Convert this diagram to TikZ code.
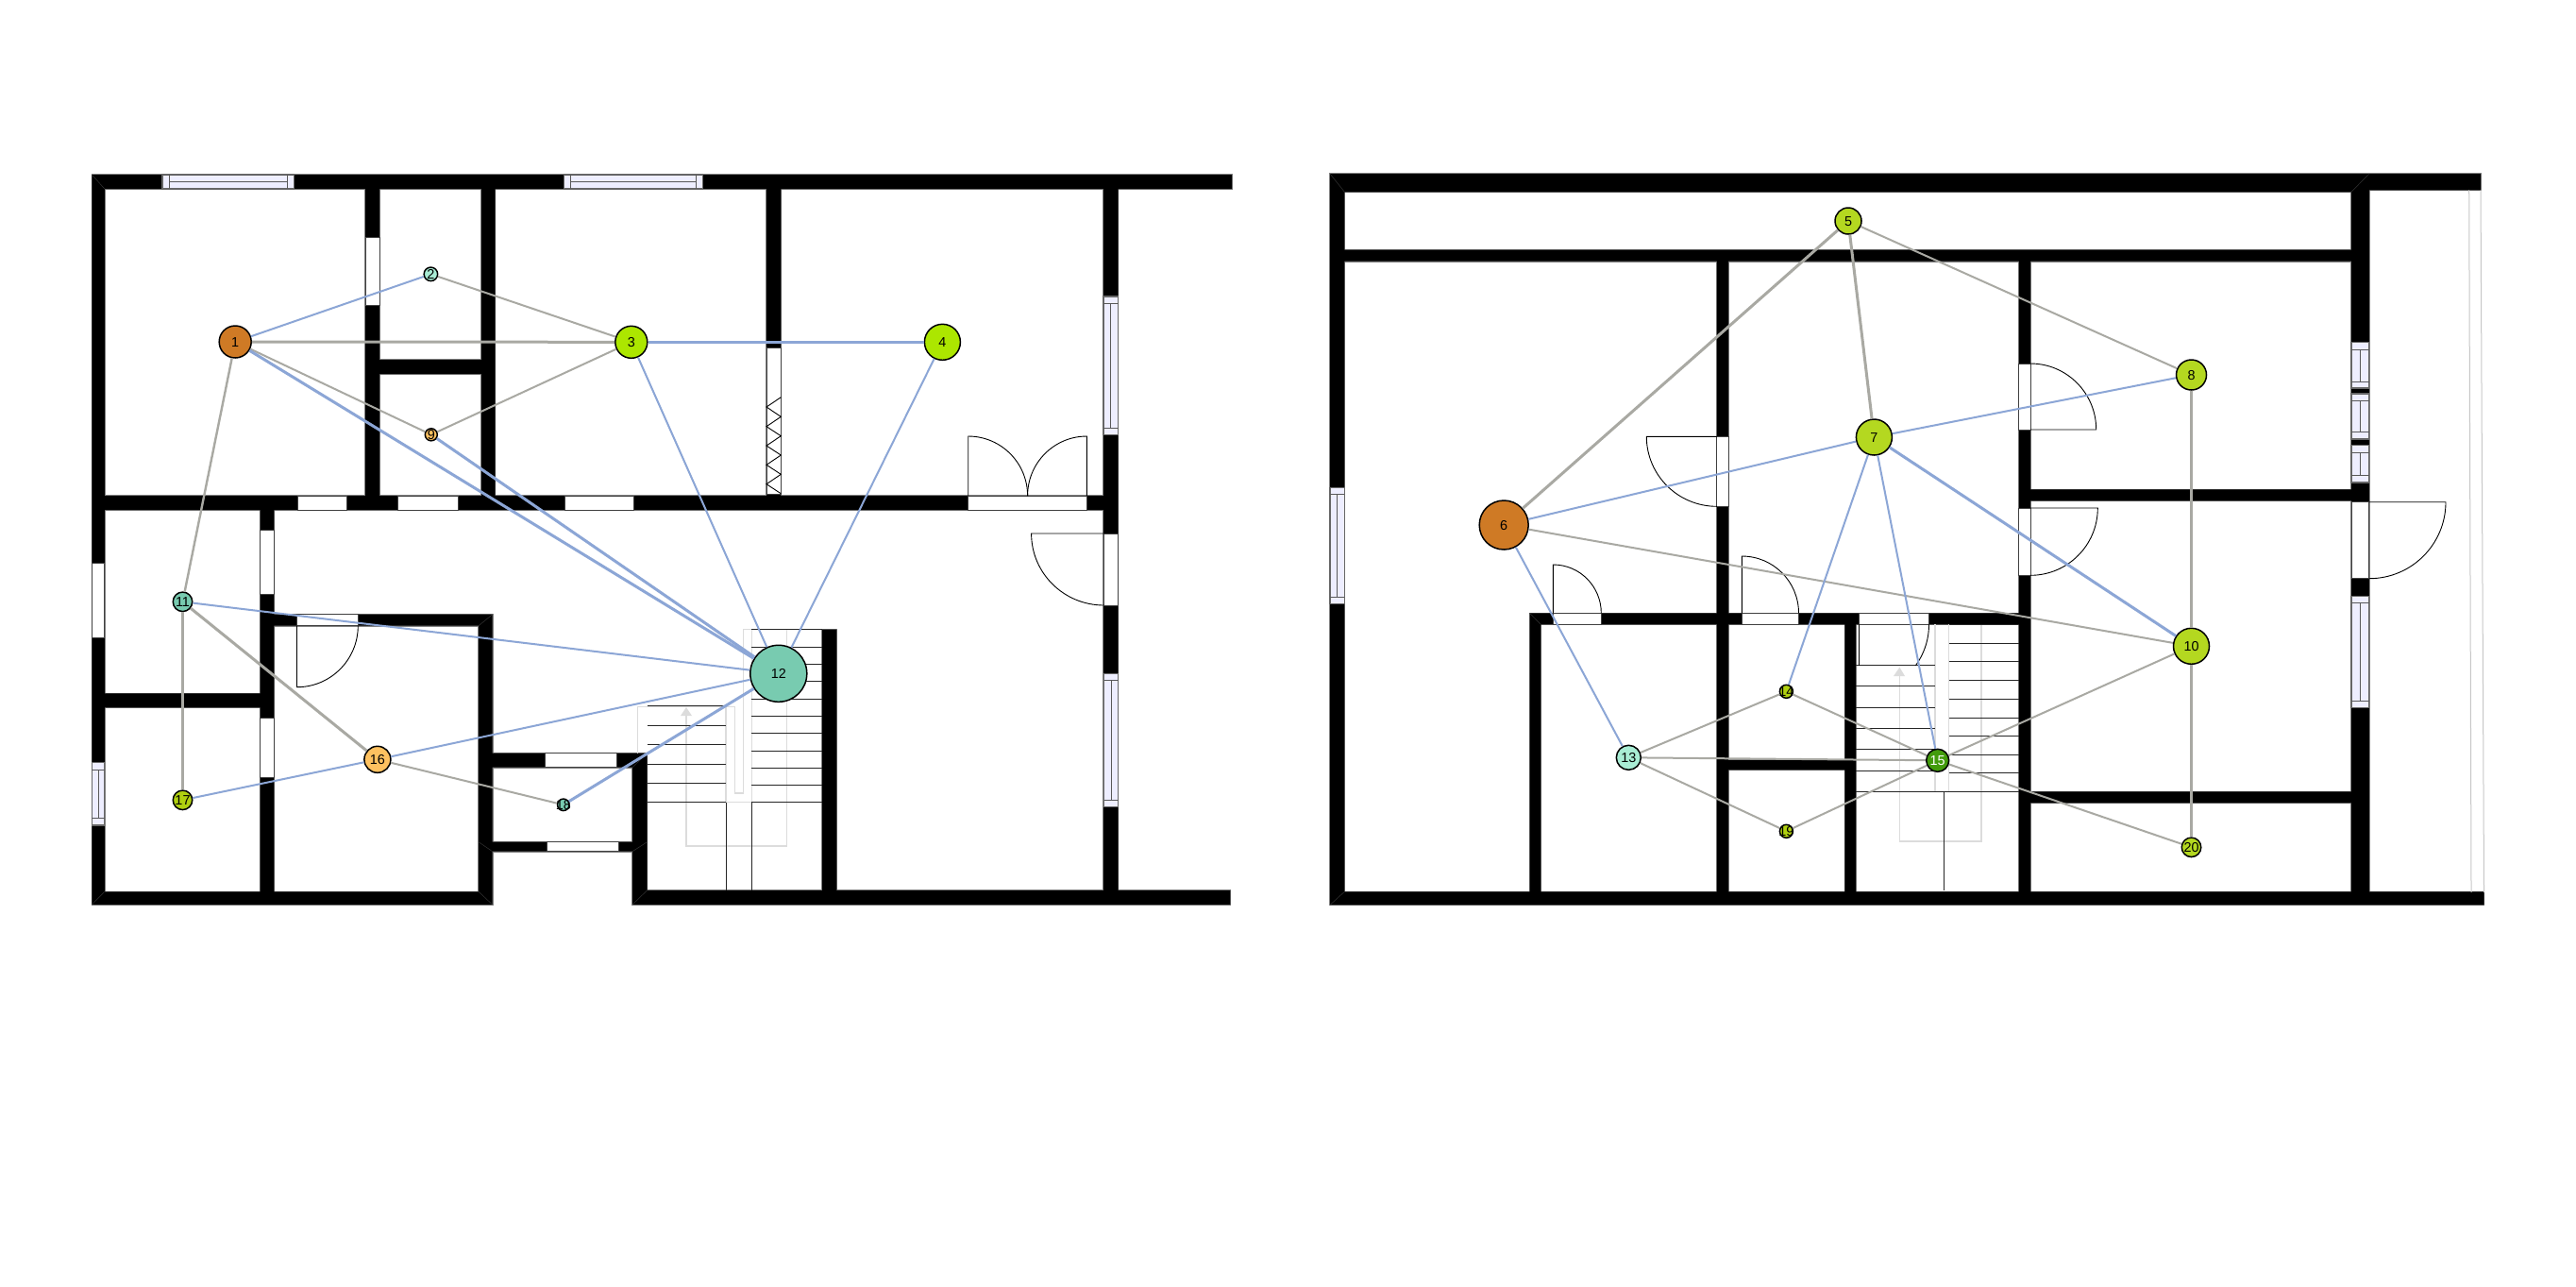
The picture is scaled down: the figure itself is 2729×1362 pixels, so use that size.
\documentclass[tikz,border=0pt]{standalone}
\usepackage{fontspec}
\setmainfont{Liberation Sans}
\usetikzlibrary{calc}
\definecolor{wallgray}{HTML}{808080}
\definecolor{winfill}{HTML}{EEEEFF}
\definecolor{stairgray}{HTML}{DCDCDC}
\definecolor{edgeB}{HTML}{8CA6D6}
\definecolor{edgeG}{HTML}{A9A9A3}
\definecolor{cOrange}{HTML}{CF7A25}
\definecolor{cLime}{HTML}{ACE600}
\definecolor{cYellowGreen}{HTML}{B4D820}
\definecolor{cOlive}{HTML}{B0D010}
\definecolor{cMint}{HTML}{A8ECD4}
\definecolor{cTeal}{HTML}{78CBB0}
\definecolor{cAmber}{HTML}{FDC160}
\definecolor{cGreen}{HTML}{429B0C}
\newcommand{\nlab}[1]{\smash{\raisebox{-2.6pt}{\makebox[0pt]{\fontsize{7.2}{8}\selectfont #1}}}}
\newcommand{\wallspath}{
 (97.4,185) rectangle (1305,200)
 (97.4,185) rectangle (110.8,958)
 (387,200) rectangle (402,540)
 (510,200) rectangle (524.5,540)
 (387,381) rectangle (524.5,396)
 (97.4,525) rectangle (1184.5,540)
 (812,200) rectangle (827.3,540)
 (1169,185) rectangle (1184.5,958)
 (670,943) rectangle (1303.4,958)
 (871,666.7) rectangle (886.4,958)
 (670,797.7) rectangle (685.5,958)
 (507,797.7) rectangle (685.5,812.7)
 (507,891.7) rectangle (685.5,901.7)
 (275.7,650.7) rectangle (521.7,662.7)
 (507,650.7) rectangle (521.7,958)
 (97.4,944.3) rectangle (521.7,958)
 (275.7,525) rectangle (290.4,958)
 (97.4,734.3) rectangle (290.4,749.3)
 (1409,184) rectangle (2509.8,203.3)
 (2509.8,184) rectangle (2628,201.3)
 (1409,184) rectangle (1424.4,958.3)
 (1409,264.7) rectangle (2509.8,276.7)
 (1818.8,264.7) rectangle (1831,958.3)
 (2138.9,264.7) rectangle (2151,958.3)
 (2491,184) rectangle (2509.8,958.3)
 (2139,518.3) rectangle (2509,530.3)
 (2139,838.3) rectangle (2491,850.3)
 (1409,944.3) rectangle (2631.5,958.3)
 (1620.5,649.3) rectangle (2151,661.3)
 (1620.5,649.3) rectangle (1632.3,958.3)
 (1954.3,649.3) rectangle (1966,958.3)
 (1818.8,805) rectangle (1966,815.3)
}
% door leaf: hinge, free end A of the leaf, end B of the swing
\newcommand{\leafdoor}[3]{\draw[leafline] (#1) -- (#2) .. controls ($(#2)+0.5523*(#3)-0.5523*(#1)$) and ($(#3)+0.5523*(#2)-0.5523*(#1)$) .. (#3);}
% vertical window: x1,x2,y1,y2,sub1,sub2
\newcommand{\winV}[6]{\draw[winbox] (#1,#3) rectangle (#2,#4);
 \draw[winbar] (#1,#5) -- (#2,#5) (#1,#6) -- (#2,#6) ({(#1+#2)/2},#5) -- ({(#1+#2)/2},#6);}
% horizontal window: x1,x2,y1,y2,sub1,sub2
\newcommand{\winH}[6]{\draw[winbox] (#1,#3) rectangle (#2,#4);
 \draw[winbar] (#5,#3) -- (#5,#4) (#6,#3) -- (#6,#4) (#5,{(#3+#4)/2}) -- (#6,{(#3+#4)/2});}
\tikzset{
 leafline/.style={draw=black,line width=0.45pt},
 opening/.style={draw=black!75,fill=white,line width=0.5pt},
 winbox/.style={draw=black!60,fill=winfill,line width=0.6pt},
 winbar/.style={draw=black!65,line width=0.5pt},
 stepline/.style={draw=black!85,line width=0.45pt},
 ghost/.style={draw=stairgray,line width=0.6pt},
 miter/.style={draw=black!80,line width=0.25pt},
 eblue/.style={draw=edgeB,line width=1pt},
 ebluebold/.style={draw=edgeB,line width=1.5pt},
 egray/.style={draw=edgeG,line width=1pt},
 egraymid/.style={draw=edgeG,line width=1.2pt},
 egraybold/.style={draw=edgeG,line width=1.5pt},
 vertex/.style={circle,draw=black,line width=0.75pt,inner sep=0pt,text=black},
}
\begin{document}
\begin{tikzpicture}[x=0.5pt,y=-0.5pt]
\useasboundingbox (0,0) rectangle (2729,1362);
\fill[white] (0,0) rectangle (2729,1362);
% walls
\draw[wallgray,line width=0.8pt] \wallspath;
\fill[black] \wallspath;
\draw[miter] (97.4,185)--(110.8,200) (97.4,958)--(110.8,944.3) (521.7,958)--(507,944.3) (521.7,650.7)--(507,662.7)
 (507,891.7)--(521.7,901.7) (685.5,891.7)--(670,901.7) (685.5,797.7)--(670,812.7) (670,958)--(685.5,943)
 (1409,184)--(1424.4,203.3) (1409,958.3)--(1424.4,944.3) (2509.8,184)--(2491,203.3) (1620.5,649.3)--(1632.3,661.3);
% left stairs
\draw[ghost] (675.7,797.7)--(675.7,748.3)--(778.4,748.3)--(778.4,840)--(787.8,840)--(787.8,666.7)--(833.8,666.7)--(833.8,896)--(727,896)--(727,755);
\draw[ghost] (769,748.3)--(769,849.7)--(796.3,849.7)--(796.3,666.7);
\fill[stairgray] (721,758)--(733,758)--(727,749)--cycle;
\foreach \yy in {666.7,685,703.3,721.7,740,758.7,776.7,795,813.3,831.7,849.7}{\draw[stepline] (796.3,\yy)--(871.3,\yy);}
\foreach \yy in {747.7,768.3,788.7,809.3,829.3,849.7}{\draw[stepline] (685.5,\yy)--(769,\yy);}
\draw[stepline] (769,849.7)--(769,943) (796.3,849.7)--(796.3,943);
% right stairs
\draw[ghost] (2012.4,712)--(2012.4,891)--(2099,891)--(2099,661.3);
\draw[ghost] (2050,661.3)--(2050,838.3)--(2064.5,838.3)--(2064.5,661.3);
\fill[stairgray] (2006,716)--(2018,716)--(2012.4,706.7)--cycle;
\foreach \yy in {661.3,681,700.7,720.3,740.3,760,779.3,799,818.7,838.3}{\draw[stepline] (2064.5,\yy)--(2139,\yy);}
\foreach \yy in {704.3,726.7,749,771.3,793.7,816.3,838.3}{\draw[stepline] (1966,\yy)--(2050,\yy);}
\draw[stepline] (2050,838.3)--(2064.5,838.3) (2059,838.3)--(2059,943);
% terrace edge
\draw[draw=black!22,line width=0.5pt] (2615.7,201.3)--(2618,945) (2628,201.3)--(2631.5,945);
% left openings
\draw[opening] (315,525) rectangle (367.5,540);
\draw[opening] (421.6,525) rectangle (485,540);
\draw[opening] (598,525) rectangle (671.5,540);
\draw[opening] (1025.7,525) rectangle (1151.4,540);
\draw[opening] (387,251.7) rectangle (402,323.7);
\draw[opening] (275.7,561) rectangle (290.4,629.3);
\draw[opening] (275.7,760.3) rectangle (290.4,823.3);
\draw[opening] (97.4,596) rectangle (110.8,675.7);
\draw[opening] (314.5,650.7) rectangle (379.3,662.7);
\draw[opening] (577.8,797.7) rectangle (653,812.7);
\draw[opening] (579.8,891.7) rectangle (655.3,901.7);
\draw[opening] (1169.5,565) rectangle (1184.5,641);
\draw[opening] (812,368) rectangle (827.3,523);
\draw[leafline] (827.3,420.7)--(812,431)--(827.3,441.3)--(812,451.7)--(827.3,461.7)--(812,472)--(827.3,482)--(812,492.3)--(827.3,502.3)--(812,512.7)--(827.3,522.7);
% left windows
\winH{172}{311.7}{185}{200}{179}{304.6}
\winH{597.6}{744.5}{185}{200}{604.7}{737.6}
\winV{1169}{1184.5}{314}{460.7}{321}{453.3}
\winV{1169.5}{1184.5}{713.7}{854.3}{720.7}{847.7}
\winV{97.4}{110.8}{807.7}{874}{815}{866.7}
% left door leaves
\coordinate (dA) at (1025.7,525); \coordinate (dB) at (1025.7,462); \coordinate (dC) at (1088.6,525);
\leafdoor{dA}{dB}{dC}
\coordinate (dA) at (1151.4,525); \coordinate (dB) at (1151.4,462); \coordinate (dC) at (1088.6,525);
\leafdoor{dA}{dB}{dC}
\coordinate (dA) at (1169.5,565); \coordinate (dB) at (1092.6,565); \coordinate (dC) at (1169.5,641);
\leafdoor{dA}{dB}{dC}
\coordinate (dA) at (314.5,662.7); \coordinate (dB) at (314.5,727.7); \coordinate (dC) at (379.3,662.7);
\leafdoor{dA}{dB}{dC}
% right openings
\draw[opening] (1818.8,462.3) rectangle (1831,536.3);
\draw[opening] (2138.9,385) rectangle (2151,455);
\draw[opening] (2138.9,538) rectangle (2151,609.3);
\draw[opening] (2491,531.7) rectangle (2509.8,612.7);
\draw[opening] (1645.4,649.3) rectangle (1696.3,661.3);
\draw[opening] (1845.3,649.3) rectangle (1905.5,661.3);
\draw[opening] (1969.5,649.3) rectangle (2043.5,661.3);
% right windows
\winV{1409}{1424.4}{516.3}{639.3}{523.7}{632}
\winV{2491}{2509.8}{362.7}{411}{370}{404}
\winV{2491}{2509.8}{417}{465}{424.3}{457.7}
\winV{2491}{2509.8}{471.7}{511}{479}{503.7}
\winV{2491}{2509.8}{631.3}{749.7}{638.7}{742.3}
% right door leaves
\coordinate (dA) at (1818.8,462.3); \coordinate (dB) at (1744.3,462.3); \coordinate (dC) at (1818.8,536.3);
\leafdoor{dA}{dB}{dC}
\coordinate (dA) at (2151,455); \coordinate (dB) at (2220.7,455); \coordinate (dC) at (2151,385);
\leafdoor{dA}{dB}{dC}
\coordinate (dA) at (2151,538); \coordinate (dB) at (2222.3,538); \coordinate (dC) at (2151,609.3);
\leafdoor{dA}{dB}{dC}
\coordinate (dA) at (2510,531.7); \coordinate (dB) at (2591,531.7); \coordinate (dC) at (2510,612.7);
\leafdoor{dA}{dB}{dC}
\coordinate (dA) at (1645.4,649.3); \coordinate (dB) at (1645.4,598); \coordinate (dC) at (1696.3,649.3);
\leafdoor{dA}{dB}{dC}
\coordinate (dA) at (1845.3,649.3); \coordinate (dB) at (1845.3,589); \coordinate (dC) at (1905.5,649.3);
\leafdoor{dA}{dB}{dC}
\begin{scope}
\clip (1960,661.3) rectangle (2050,704.3);
\coordinate (dA) at (1969.5,661.3); \coordinate (dB) at (1969.5,735.3); \coordinate (dC) at (2043.5,661.3);
\leafdoor{dA}{dB}{dC}
\end{scope}
% nodes
\node[vertex,fill=cOrange,minimum size=17pt] (n1) at (249.2,362) {\nlab{1}};
\node[vertex,fill=cMint,minimum size=7.25pt] (n2) at (456.4,290.3) {\nlab{2}};
\node[vertex,fill=cLime,minimum size=17pt] (n3) at (668.8,362.3) {\nlab{3}};
\node[vertex,fill=cLime,minimum size=19pt] (n4) at (998.4,362.3) {\nlab{4}};
\node[vertex,fill=cYellowGreen,minimum size=14pt] (n5) at (1958,234) {\nlab{5}};
\node[vertex,fill=cOrange,minimum size=26pt] (n6) at (1593.2,556) {\nlab{6}};
\node[vertex,fill=cYellowGreen,minimum size=19pt] (n7) at (1985.4,463) {\nlab{7}};
\node[vertex,fill=cYellowGreen,minimum size=16pt] (n8) at (2321.5,397) {\nlab{8}};
\node[vertex,fill=cAmber,minimum size=6.5pt] (n9) at (456.8,460.3) {\nlab{9}};
\node[vertex,fill=cYellowGreen,minimum size=19pt] (n10) at (2321.5,684.3) {\nlab{10}};
\node[vertex,fill=cTeal,minimum size=10.25pt] (n11) at (193.5,637.3) {\nlab{11}};
\node[vertex,fill=cTeal,minimum size=30pt] (n12) at (824.8,713.3) {\nlab{12}};
\node[vertex,fill=cMint,minimum size=13pt] (n13) at (1725.3,802.3) {\nlab{13}};
\node[vertex,fill=cOlive,minimum size=7pt] (n14) at (1892.4,732.3) {\nlab{14}};
\node[vertex,fill=cGreen,minimum size=12pt,text=white] (n15) at (2052.7,805.3) {\nlab{15}};
\node[vertex,fill=cAmber,minimum size=14pt] (n16) at (399.9,804.3) {\nlab{16}};
\node[vertex,fill=cOlive,minimum size=10.25pt] (n17) at (193.5,847.3) {\nlab{17}};
\node[vertex,fill=cTeal,minimum size=6.25pt] (n18) at (596.8,852.3) {\nlab{18}};
\node[vertex,fill=cOlive,minimum size=7pt] (n19) at (1892.4,880.3) {\nlab{19}};
\node[vertex,fill=cYellowGreen,minimum size=10.25pt] (n20) at (2321.5,897.3) {\nlab{20}};
% connectors, left plan
\draw[eblue] (n1) -- (n2);
\draw[egray] (n2) -- (n3);
\draw[egraybold] (n1) -- (n3);
\draw[ebluebold] (n3) -- (n4);
\draw[egray] (n1) -- (n9);
\draw[egray] (n9) -- (n3);
\draw[ebluebold] (n1) -- (n12);
\draw[ebluebold] (n9) -- (n12);
\draw[eblue] (n3) -- (n12);
\draw[eblue] (n4) -- (n12);
\draw[egraymid] (n1) -- (n11);
\draw[egraybold] (n11) -- (n17);
\draw[egraybold] (n11) -- (n16);
\draw[eblue] (n11) -- (n12);
\draw[eblue] (n17) -- (n16);
\draw[eblue] (n16) -- (n12);
\draw[egray] (n16) -- (n18);
\draw[ebluebold] (n18) -- (n12);
% connectors, right plan
\draw[egraybold] (n5) -- (n6);
\draw[egraybold] (n5) -- (n7);
\draw[egray] (n5) -- (n8);
\draw[eblue] (n6) -- (n7);
\draw[eblue] (n7) -- (n8);
\draw[ebluebold] (n7) -- (n10);
\draw[egraymid] (n8) -- (n10);
\draw[egray] (n6) -- (n10);
\draw[eblue] (n6) -- (n13);
\draw[eblue] (n7) -- (n14);
\draw[eblue] (n7) -- (n15);
\draw[egray] (n13) -- (n14);
\draw[egray] (n13) -- (n15);
\draw[egray] (n13) -- (n19);
\draw[egray] (n14) -- (n15);
\draw[egray] (n19) -- (n15);
\draw[egray] (n15) -- (n10);
\draw[egray] (n15) -- (n20);
\draw[egraymid] (n10) -- (n20);
\end{tikzpicture}
\end{document}
